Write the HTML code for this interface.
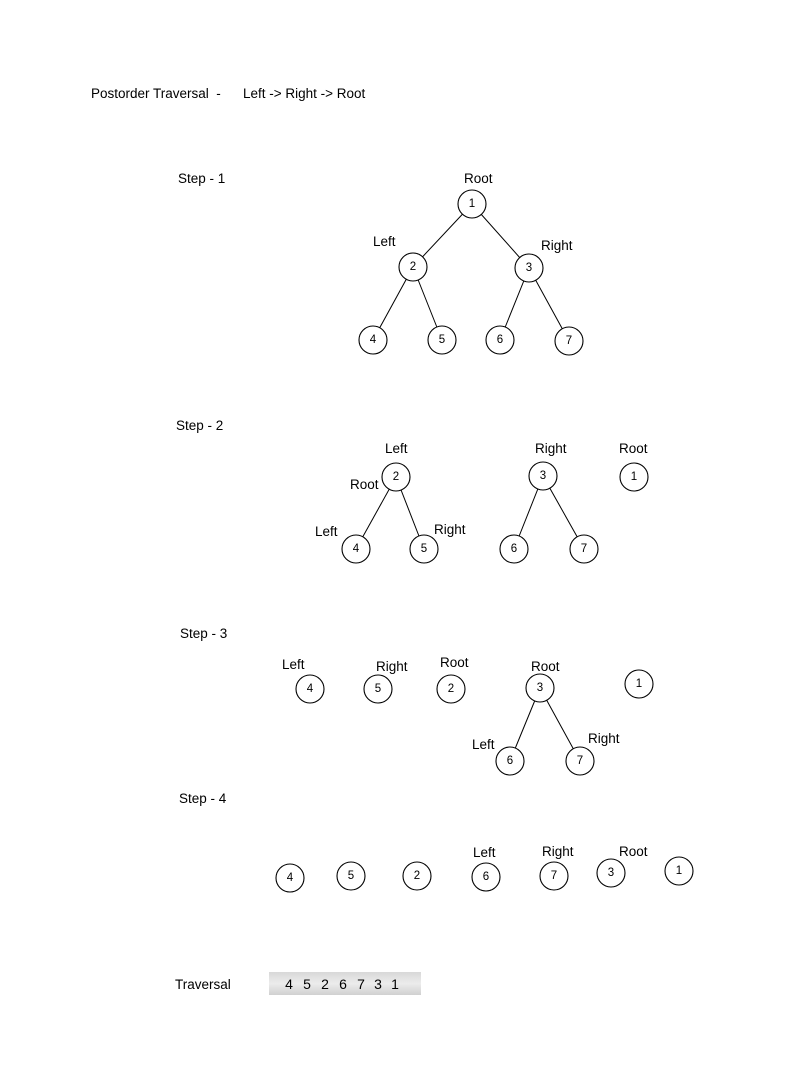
<!DOCTYPE html>
<html><head><meta charset="utf-8"><style>
html,body{margin:0;padding:0;background:#fff;}
svg{display:block;}
text{font-family:"Liberation Sans",sans-serif;fill:#000;white-space:pre;}
.l{font-size:13.5px;}
.n{font-size:11.5px;text-anchor:middle;dominant-baseline:central;}
.t{font-size:14px;text-anchor:middle;}
circle{fill:#fff;stroke:#000;stroke-width:1.1;}
line{stroke:#000;stroke-width:1;}
</style></head><body>
<svg width="802" height="1080" viewBox="0 0 802 1080" xml:space="preserve">
<defs><linearGradient id="g" x1="0" y1="0" x2="0" y2="1"><stop offset="0" stop-color="#d8d8d8"/><stop offset="0.5" stop-color="#ececec"/><stop offset="1" stop-color="#d0d0d0"/></linearGradient></defs>
<text class="l" x="91" y="98">Postorder Traversal  -</text>
<text class="l" x="243" y="98">Left -&gt; Right -&gt; Root</text>
<text class="l" x="178" y="183">Step - 1</text>
<text class="l" x="176" y="430">Step - 2</text>
<text class="l" x="180" y="638">Step - 3</text>
<text class="l" x="179" y="803">Step - 4</text>
<text class="l" x="175" y="989">Traversal</text>
<rect x="269" y="972" width="152" height="23" fill="url(#g)"/>
<text class="t" x="289" y="989">4</text><text class="t" x="307" y="989">5</text><text class="t" x="325" y="989">2</text><text class="t" x="343" y="989">6</text><text class="t" x="361" y="989">7</text><text class="t" x="378" y="989">3</text><text class="t" x="395" y="989">1</text>

<!-- step1 -->
<line x1="472" y1="204" x2="413" y2="267"/><line x1="472" y1="204" x2="529" y2="268"/>
<line x1="413" y1="267" x2="373" y2="340"/><line x1="413" y1="267" x2="442" y2="340"/>
<line x1="529" y1="268" x2="500" y2="340"/><line x1="529" y1="268" x2="569" y2="341"/>
<circle cx="472" cy="204" r="14"/><text class="n" x="472" y="204">1</text>
<circle cx="413" cy="267" r="14"/><text class="n" x="413" y="267">2</text>
<circle cx="529" cy="268" r="14"/><text class="n" x="529" y="268">3</text>
<circle cx="373" cy="340" r="14"/><text class="n" x="373" y="340">4</text>
<circle cx="442" cy="340" r="14"/><text class="n" x="442" y="340">5</text>
<circle cx="500" cy="340" r="14"/><text class="n" x="500" y="340">6</text>
<circle cx="569" cy="341" r="14"/><text class="n" x="569" y="341">7</text>
<text class="l" x="464" y="183">Root</text><text class="l" x="373" y="246">Left</text><text class="l" x="541" y="250">Right</text>

<!-- step2 -->
<line x1="396" y1="477" x2="356" y2="549"/><line x1="396" y1="477" x2="424" y2="549"/>
<line x1="543" y1="476" x2="514" y2="549"/><line x1="543" y1="476" x2="584" y2="549"/>
<circle cx="396" cy="477" r="14"/><text class="n" x="396" y="477">2</text>
<circle cx="356" cy="549" r="14"/><text class="n" x="356" y="549">4</text>
<circle cx="424" cy="549" r="14"/><text class="n" x="424" y="549">5</text>
<circle cx="543" cy="476" r="14"/><text class="n" x="543" y="476">3</text>
<circle cx="514" cy="549" r="14"/><text class="n" x="514" y="549">6</text>
<circle cx="584" cy="549" r="14"/><text class="n" x="584" y="549">7</text>
<circle cx="634" cy="477" r="14"/><text class="n" x="634" y="477">1</text>
<text class="l" x="385" y="453">Left</text><text class="l" x="350" y="489">Root</text>
<text class="l" x="315" y="536">Left</text><text class="l" x="434" y="534">Right</text>
<text class="l" x="535" y="453">Right</text><text class="l" x="619" y="453">Root</text>

<!-- step3 -->
<line x1="540" y1="688" x2="510" y2="761"/><line x1="540" y1="688" x2="580" y2="761"/>
<circle cx="310" cy="689" r="14"/><text class="n" x="310" y="689">4</text>
<circle cx="378" cy="689" r="14"/><text class="n" x="378" y="689">5</text>
<circle cx="451" cy="689" r="14"/><text class="n" x="451" y="689">2</text>
<circle cx="540" cy="688" r="14"/><text class="n" x="540" y="688">3</text>
<circle cx="510" cy="761" r="14"/><text class="n" x="510" y="761">6</text>
<circle cx="580" cy="761" r="14"/><text class="n" x="580" y="761">7</text>
<circle cx="639" cy="684" r="14"/><text class="n" x="639" y="684">1</text>
<text class="l" x="282" y="669">Left</text><text class="l" x="376" y="671">Right</text>
<text class="l" x="440" y="667">Root</text><text class="l" x="531" y="671">Root</text>
<text class="l" x="472" y="749">Left</text><text class="l" x="588" y="743">Right</text>

<!-- step4 -->
<circle cx="290" cy="878" r="14"/><text class="n" x="290" y="878">4</text>
<circle cx="351" cy="876" r="14"/><text class="n" x="351" y="876">5</text>
<circle cx="417" cy="876" r="14"/><text class="n" x="417" y="876">2</text>
<circle cx="486" cy="877" r="14"/><text class="n" x="486" y="877">6</text>
<circle cx="554" cy="876" r="14"/><text class="n" x="554" y="876">7</text>
<circle cx="611" cy="873" r="14"/><text class="n" x="611" y="873">3</text>
<circle cx="679" cy="871" r="14"/><text class="n" x="679" y="871">1</text>
<text class="l" x="473" y="857">Left</text><text class="l" x="542" y="856">Right</text><text class="l" x="619" y="856">Root</text>
</svg>
</body></html>
